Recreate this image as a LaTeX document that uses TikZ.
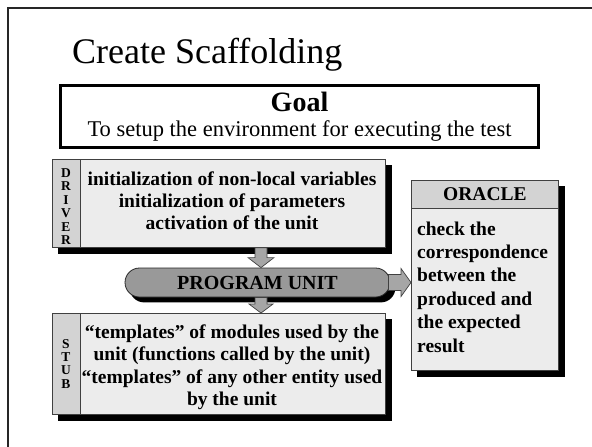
\documentclass[tikz,border=0pt]{standalone}
\usepackage{fontspec}
\setmainfont{Liberation Serif}
\usetikzlibrary{calc,backgrounds}
\definecolor{panelfill}{HTML}{ECECEC}
\definecolor{tabfill}{HTML}{D3D3D3}
\definecolor{unitfill}{HTML}{999999}
\definecolor{arrowfill}{HTML}{A6A6A6}
\definecolor{edge}{HTML}{404040}
\newcommand{\fsz}[2]{\fontsize{#1}{#2}\selectfont}
\begin{document}
\begin{tikzpicture}[x=1pt,y=-1pt,
  panel/.style={draw=edge, line width=0.8pt, fill=panelfill, anchor=north west, inner sep=0pt},
  tab/.style={draw=edge, line width=0.8pt, fill=tabfill, anchor=north west, inner sep=0pt},
  shadowfill/.style={fill=black},
  bodytext/.style={font=\fsz{19.5}{22}\bfseries, inner sep=0pt, anchor=base},
  tabletter/.style={font=\fsz{13.5}{13.5}\bfseries, inner sep=0pt, anchor=base},
  fatarrow/.style={draw=edge, line width=0.7pt, fill=arrowfill, line join=miter}
]
\useasboundingbox (0,0) rectangle (592,447);

% slide frame
\draw[line width=2pt, black!85] (592,7.5) -- (7.5,7.5) -- (7.5,447);

% heading
\node[anchor=base west, inner sep=0pt, font=\fsz{36}{40}] (title) at (72,63) {Create Scaffolding};

% goal box
\node[draw=black, line width=3pt, anchor=north west, inner sep=0pt,
      minimum width=478pt, minimum height=62pt] (goal) at (59,84) {};
\node[anchor=base, inner sep=0pt, font=\fsz{28}{30}\bfseries] (goalhead) at (299.5,111) {Goal};
\node[anchor=base, inner sep=0pt, font=\fsz{22.5}{24}] (goaltext) at (299.5,136)
  {To setup the environment for executing the test};

% driver panel
\node[panel, minimum width=333pt, minimum height=88pt] (driver) at (52,159) {};
\node[tab, minimum width=28pt, minimum height=88pt] (drivertab) at (52,159) {};
\foreach \c [count=\i] in {D,R,I,V,E,R}
  \node[tabletter] (drv\i) at (66,{163.5+13.5*\i}) {\c};
\foreach \t [count=\i] in {initialization of non-local variables,
                           initialization of parameters,
                           activation of the unit}
  \node[bodytext] (drvline\i) at (232,{185.5+21.75*(\i-1)}) {\t};

% program unit
\node[draw=black!85, line width=0.8pt, fill=unitfill, rounded corners=14.5pt,
      minimum width=265pt, minimum height=29pt, inner sep=0pt,
      font=\fsz{20}{22}\bfseries] (pu) at (257.5,282.5) {PROGRAM UNIT};

% stub panel
\node[panel, minimum width=333pt, minimum height=101pt] (stub) at (52,313) {};
\node[tab, minimum width=28pt, minimum height=101pt] (stubtab) at (52,313) {};
\foreach \c [count=\i] in {S,T,U,B}
  \node[tabletter] (stb\i) at (66,{335+13.3*\i}) {\c};
\foreach \t [count=\i] in {“templates” of modules used by the,
                           unit (functions called by the unit),
                           “templates” of any other entity used,
                           by the unit}
  \node[bodytext] (stbline\i) at (232,{338+22.5*(\i-1)}) {\t};

% oracle panel
\node[panel, minimum width=147pt, minimum height=190pt] (oracle) at (411,180) {};
\node[tab, minimum width=147pt, minimum height=28pt, font=\fsz{19.5}{22}\bfseries]
  (oraclehead) at (411,180) {ORACLE};
\foreach \t [count=\i] in {check the, correspondence, between the,
                           produced and, the expected, result}
  \node[bodytext, anchor=base west] (orcline\i) at (417,{235+23.4*(\i-1)}) {\t};

% hard black shadows behind the panels and the unit
\begin{pgfonlayer}{background}
  \fill[shadowfill] ($(driver.north west)+(6,6)$) rectangle ($(driver.south east)+(6,6)$);
  \fill[shadowfill] ($(stub.north west)+(6,6)$) rectangle ($(stub.south east)+(6,6)$);
  \fill[shadowfill] ($(oracle.north west)+(6,6)$) rectangle ($(oracle.south east)+(6,6)$);
  \fill[shadowfill, rounded corners=14.5pt] ($(pu.north west)+(5,5)$) rectangle ($(pu.south east)+(5,5)$);
\end{pgfonlayer}

% block arrows between the parts
\coordinate (ax) at (261,0);
\path (driver.south -| ax) coordinate (a1s) (pu.north -| ax) coordinate (a1e);
\draw[fatarrow] ($(a1s)+(-6,0)$) -- ($(a1e)+(-6,-10)$) -- ($(a1e)+(-13,-10)$) -- (a1e)
  -- ($(a1e)+(13,-10)$) -- ($(a1e)+(6,-10)$) -- ($(a1s)+(6,0)$) -- cycle;

\path (pu.south -| ax) coordinate (a2s) (stub.north -| ax) coordinate (a2e);
\draw[fatarrow] ($(a2s)+(-6,0)$) -- ($(a2e)+(-6,-9)$) -- ($(a2e)+(-12,-9)$) -- (a2e)
  -- ($(a2e)+(12,-9)$) -- ($(a2e)+(6,-9)$) -- ($(a2s)+(6,0)$) -- cycle;

\path (pu.east) coordinate (a3s) (pu.east -| oracle.west) coordinate (a3e);
\draw[fatarrow] ($(a3s)+(-2,-8)$) -- ($(a3e)+(-10,-8)$) -- ($(a3e)+(-10,-14)$) -- (a3e)
  -- ($(a3e)+(-10,14)$) -- ($(a3e)+(-10,8)$) -- ($(a3s)+(-2,8)$) -- cycle;
\end{tikzpicture}
\end{document}
